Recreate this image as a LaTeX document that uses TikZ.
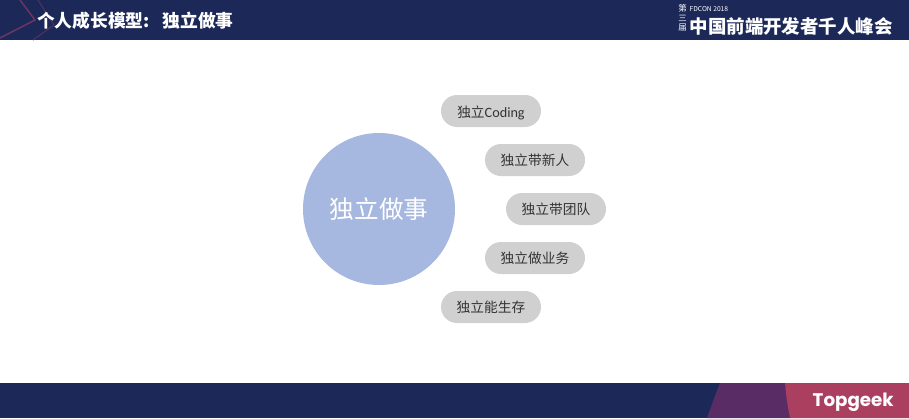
\documentclass[tikz,border=0pt]{standalone}
\usepackage{fontspec}
\setmainfont{Noto Sans CJK SC}
\newfontfamily\latinfont{Carlito}
\newfontfamily\logofont{Poppins}
\usetikzlibrary{positioning}

\definecolor{barblue}{HTML}{1B2858}
\definecolor{circleblue}{HTML}{A6B8E0}
\definecolor{pillgray}{HTML}{D0D0D0}
\definecolor{logopink}{HTML}{AB3F60}
\definecolor{logopurple}{HTML}{5A2C66}
\definecolor{linepink}{HTML}{6A3560}

\tikzset{
  pill/.style={fill=pillgray,rounded corners=0.16cm,minimum width=1cm,minimum height=0.32cm,
    inner sep=0pt,text=black!80,font=\fontsize{3.9pt}{4pt}\selectfont},
  bartext/.style={inner sep=0pt,text=white}
}

\begin{document}
\begin{tikzpicture}

  \useasboundingbox (0,0) rectangle (9.09,4.18);

  % Bars
  \fill[barblue] (0,3.78) rectangle (9.09,4.18);
  \fill[barblue] (0,0) rectangle (9.09,0.35);

  % Header lines
  \draw[linepink,line width=0.45pt] (0.20,4.18) -- (0.35,3.98) -- (0,3.80);
  \draw[linepink!70!barblue,line width=0.3pt] (0.38,4.18) -- (0.54,3.93) -- (0.33,3.78);

  % Footer shapes
  \fill[logopurple] (7.07,0) .. controls (7.12,0.14) and (7.16,0.25) .. (7.20,0.35) -- (7.85,0.35) -- (7.90,0) -- cycle;
  \fill[logopink] (7.85,0.35) .. controls (7.86,0.22) and (7.88,0.1) .. (7.90,0) -- (9.09,0) -- (9.09,0.35) -- cycle;

  % Title
  \node[bartext,anchor=west,font=\fontsize{5.05pt}{6pt}\selectfont\bfseries] (title) at (0.365,3.97) {个人成长模型:\hspace{0.72em}独立做事};

  % Conference name
  \node[bartext,anchor=west,font=\fontsize{5.25pt}{6pt}\selectfont\bfseries] (confname) at (6.89,3.92) {中国前端开发者千人峰会};
  \node[bartext,anchor=west,font=\fontsize{1.9pt}{2pt}\selectfont] (confyear) at (6.89,4.09) {FDCON 2018};
  \node[bartext,font=\fontsize{2.4pt}{2.7pt}\selectfont,align=center] (confnum) at (6.825,4.00) {第\\三\\届};

  % Logo
  \node[bartext,anchor=west,font=\fontsize{5.2pt}{6pt}\selectfont\logofont\bfseries] (logo) at (8.12,0.155) {Topgeek};

  % Circle
  \node[circle,fill=circleblue,minimum size=1.52cm,inner sep=0pt,text=white,font=\fontsize{7pt}{8pt}\selectfont] (main) at (3.79,2.09) {独立做事};

  % Pills
  \node[pill] (coding) at (4.91,3.07) {\raisebox{0pt}[3.56pt][0pt]{独立{\latinfont\fontsize{4.05pt}{4pt}\selectfont Coding}}};
  \node[pill] (mentor) at (5.35,2.58) {独立带新人};
  \node[pill] (team) at (5.56,2.09) {独立带团队};
  \node[pill] (business) at (5.35,1.60) {独立做业务};
  \node[pill] (survive) at (4.91,1.11) {独立能生存};

\end{tikzpicture}
\end{document}
